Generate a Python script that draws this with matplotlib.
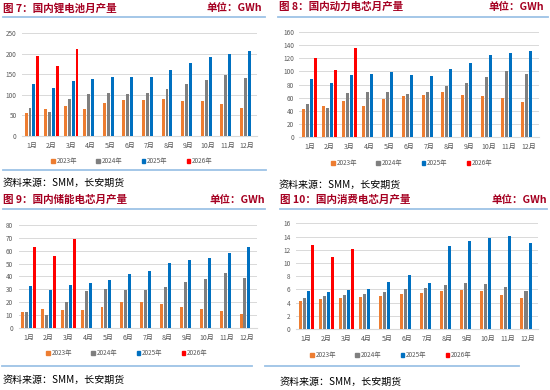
import numpy as np
import matplotlib
matplotlib.use("Agg")
import matplotlib.pyplot as plt
from matplotlib.patches import Patch
from matplotlib.lines import Line2D

plt.rcParams['font.family'] = ['Noto Sans CJK SC', 'DejaVu Sans']

months = ['1月', '2月', '3月', '4月', '5月', '6月', '7月', '8月', '9月', '10月', '11月', '12月']
years = ['2023年', '2024年', '2025年', '2026年']
colors = ['#ED7D31', '#7F7F7F', '#0070C0', '#FF0000']

# 图7 锂电池
li_2023 = [57, 66, 72, 66, 80, 87, 88, 91, 86, 84, 78, 69]
li_2024 = [68, 58, 91, 102, 104, 102, 105, 115, 126, 136, 149, 140]
li_2025 = [127, 117, 134, 138, 142, 144, 144, 161, 178, 192, 200, 207]
li_2026 = [194, 170, 211]

# 图8 动力电芯
pw_2023 = [42.4, 46.5, 55, 47.5, 58, 62, 64, 68, 64, 63, 60, 53]
pw_2024 = [50.6, 43.5, 66.5, 68.5, 68.5, 66, 69, 77, 82, 91.5, 100.7, 95.6]
pw_2025 = [88, 82, 95, 96, 98.7, 94, 93, 103.8, 113, 125, 128.8, 131.4]
pw_2026 = [120, 102, 136]

# 图9 储能电芯
es_2023 = [12, 14.3, 13.8, 13.5, 16.4, 19.7, 19.7, 18.4, 16.1, 14.8, 13, 10.9]
es_2024 = [12.2, 9.6, 20, 28.3, 30.1, 29.4, 29.4, 31.7, 35.6, 38.2, 42.9, 38.4]
es_2025 = [32.7, 29.6, 33.2, 35, 36.9, 42, 44.4, 50.1, 53, 54.5, 57.9, 62.9]
es_2026 = [63.1, 56.1, 68.8]

# 图10 消费电芯
cs_2023 = [4.19, 4.54, 4.7, 4.9, 5.0, 5.35, 5.45, 5.7, 5.9, 5.8, 5.2, 4.75]
cs_2024 = [4.7, 4.95, 5.15, 5.35, 5.65, 6.05, 6.2, 6.66, 6.9, 6.76, 6.3, 5.8]
cs_2025 = [5.8, 5.65, 5.85, 6.05, 7.1, 8.1, 6.9, 12.57, 13.3, 13.8, 14.1, 12.97]
cs_2026 = [12.67, 10.95, 12.06]

W, H = 550, 390
fig = plt.figure(figsize=(5.5, 3.9), dpi=100)

title_red = '#A50021'
line_blue = '#9DC3E6'
tick_gray = '#595959'
grid_gray = '#D9D9D9'


def px_rect(left, right, top, bottom):
    return [left / W, 1 - bottom / H, (right - left) / W, (bottom - top) / H]


def hline(y, x0, x1):
    fig.add_artist(Line2D([x0 / W, x1 / W], [1 - y / H, 1 - y / H],
                          color=line_blue, lw=1.3, transform=fig.transFigure))


def ftext(x, y, s, **kw):
    fig.text(x / W, 1 - y / H, s, va='center', **kw)


def panel(rect, series, ymax, ystep, title, tx, ty, ux, line_y, line_x, legend_y,
          legend_x, src_y, bottom_line=None):
    ax = fig.add_axes(px_rect(*rect))
    x = np.arange(len(months))
    width = 0.15
    for i, vals in enumerate(series):
        xs = x[:len(vals)] + (i - 1.5) * 0.2
        ax.bar(xs, vals, width, color=colors[i], zorder=3)
    ax.set_xlim(-0.5, 11.5)
    ax.set_ylim(0, ymax)
    ax.set_yticks(np.arange(0, ymax + ystep / 2, ystep))
    ax.set_xticks(x)
    ax.set_xticklabels(months)
    ax.yaxis.grid(True, color=grid_gray, lw=0.7, zorder=0)
    for s in ['top', 'right', 'left']:
        ax.spines[s].set_visible(False)
    ax.spines['bottom'].set_color(grid_gray)
    ax.spines['bottom'].set_linewidth(0.8)
    ax.tick_params(axis='both', length=0, labelsize=4.6, labelcolor=tick_gray)
    ax.tick_params(axis='x', labelsize=5, pad=4.5)
    ax.tick_params(axis='y', pad=4)

    handles = [Patch(color=c) for c in colors]
    fig.legend(handles, years, loc='center', ncol=4,
               bbox_to_anchor=(legend_x / W, 1 - legend_y / H), frameon=False,
               fontsize=4.6, labelcolor=tick_gray, handlelength=0.55,
               handleheight=0.55, handletextpad=0.3, columnspacing=3.0)

    ftext(tx, ty, title, color=title_red, fontsize=7.6, fontweight='bold', ha='left')
    ftext(ux, ty, '单位：GWh', color=title_red, fontsize=7.6, fontweight='bold', ha='right')
    hline(line_y, *line_x)
    if bottom_line is not None:
        hline(bottom_line[0], bottom_line[1], bottom_line[2])
    ftext(tx, src_y, '资料来源：SMM，长安期货', color='black', fontsize=7.2, ha='left')
    return ax


panel((22.2, 257, 33, 136), [li_2023, li_2024, li_2025, li_2026], 250, 50,
      '图 7：国内锂电池月产量', 3, 8, 262, 16.7, (3, 265), 161, 132, 183,
      bottom_line=(170, 3, 266))
panel((299.4, 538.7, 32.3, 136.7), [pw_2023, pw_2024, pw_2025, pw_2026], 160, 20,
      '图 8：国内动力电芯月产量', 279, 7, 544, 17.3, (278, 548), 163, 412, 185)
panel((18.6, 256.9, 225, 327.7), [es_2023, es_2024, es_2025, es_2026], 80, 10,
      '图 9：国内储能电芯月产量', 3, 200, 265, 209, (3, 265), 353, 127, 380,
      bottom_line=(366, 2, 252))
panel((296.2, 538.1, 223.3, 329), [cs_2023, cs_2024, cs_2025, cs_2026], 16, 2,
      '图 10：国内消费电芯月产量', 280, 200, 547, 209, (280, 547), 355, 391, 382,
      bottom_line=(366, 265, 519))

fig.savefig('out.png', dpi=100)
